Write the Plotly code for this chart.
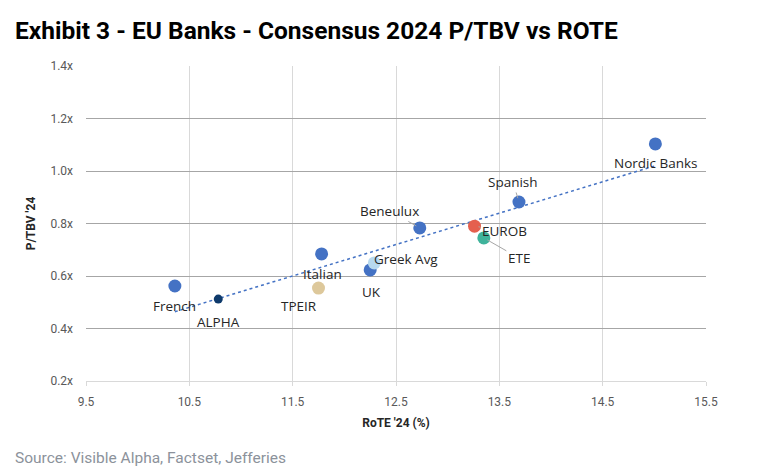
import numpy as np
import plotly.graph_objects as go

# Data
names = ["French", "ALPHA", "Italian", "TPEIR", "UK", "Greek Avg", "Beneulux",
         "EUROB", "ETE", "Spanish", "Nordic Banks"]
rote = [10.36, 10.78, 11.78, 11.75, 12.25, 12.29, 12.73, 13.26, 13.35, 13.69, 15.01]
ptbv = [0.562, 0.512, 0.684, 0.554, 0.623, 0.650, 0.783, 0.790, 0.745, 0.882, 1.103]

# Styles
colors = ["#4472C4", "#0E3A6B", "#4472C4", "#DDC89B", "#4472C4", "#B7D9EF", "#4472C4",
          "#E5604E", "#3FB39B", "#4472C4", "#4472C4"]
sizes = [13, 9, 13, 13, 13, 13, 13, 13, 13, 13, 13]
# label offsets (px) and whether a leader line is drawn
label_dx = [0, 0, 1, -20, 1, 32, -30, 30, 35, -6, 0]
label_dy = [20, 23, 20, 18, 22, -4, -17, 5, 20, -20, 19]
leader = [False, False, False, False, False, True, True, True, True, True, False]

fig = go.Figure()

# Linear trendline
coef = np.polyfit(rote, ptbv, 1)
xs = np.array([min(rote), max(rote)])
fig.add_trace(go.Scatter(x=xs, y=np.polyval(coef, xs), mode="lines",
                         line=dict(color="#4472C4", width=1.5, dash="dot"),
                         hoverinfo="skip", showlegend=False))

fig.add_trace(go.Scatter(x=rote, y=ptbv, mode="markers",
                         marker=dict(color=colors, size=sizes, opacity=1, line=dict(width=0)),
                         text=names, showlegend=False))

for n, x, y, dx, dy, ld in zip(names, rote, ptbv, label_dx, label_dy, leader):
    if ld:
        fig.add_annotation(x=x, y=y, text=n, showarrow=True, ax=dx, ay=dy,
                           arrowhead=0, arrowwidth=1, arrowcolor="#A6A6A6",
                           standoff=4,
                           font=dict(family="Open Sans", size=13.5, color="#262626"))
    else:
        fig.add_annotation(x=x, y=y, text=n, showarrow=False, xshift=dx, yshift=-dy,
                           font=dict(family="Open Sans", size=13.5, color="#262626"))

fig.add_annotation(text="<b>Exhibit 3 - EU Banks - Consensus 2024 P/TBV vs ROTE</b>",
                   xref="paper", yref="paper", x=(13 - 86) / 620, y=1 + (66 - 31) / 315,
                   xanchor="left", yanchor="middle", showarrow=False,
                   font=dict(family="Roboto", size=24.5, color="#000000"))
fig.add_annotation(text="Source: Visible Alpha, Factset, Jefferies",
                   xref="paper", yref="paper", x=(13 - 86) / 620, y=-(458 - 381) / 315,
                   xanchor="left", yanchor="middle", showarrow=False,
                   font=dict(family="Roboto", size=15.5, color="#8C929B"))

fig.update_layout(
    width=775, height=473,
    margin=dict(l=86, r=69, t=66, b=92),
    plot_bgcolor="white", paper_bgcolor="white",
    xaxis=dict(range=[9.5, 15.5], dtick=1, tick0=9.5, tickformat=".1f",
               showgrid=True, gridcolor="#D9D9D9", gridwidth=1,
               zeroline=False, showline=True, linecolor="#D9D9D9", linewidth=1,
               ticks="outside", ticklen=4, tickcolor="#D9D9D9",
               ticklabelstandoff=6,
               tickfont=dict(family="Roboto", size=12, color="#595959"),
               title=dict(text="<b>RoTE '24 (%)</b>", standoff=10,
                          font=dict(family="Roboto", size=12, color="#262626"))),
    yaxis=dict(range=[0.2, 1.4], dtick=0.2, tickformat=".1f", ticksuffix="x",
               showgrid=True, gridcolor="#A6A6A6", gridwidth=1,
               zeroline=False, showline=False,
               ticklabelstandoff=12,
               tickfont=dict(family="Roboto", size=12, color="#595959"),
               title=dict(text="<b>P/TBV '24</b>", standoff=12,
                          font=dict(family="Roboto", size=12, color="#262626"))),
)

fig.write_html("out.html")
